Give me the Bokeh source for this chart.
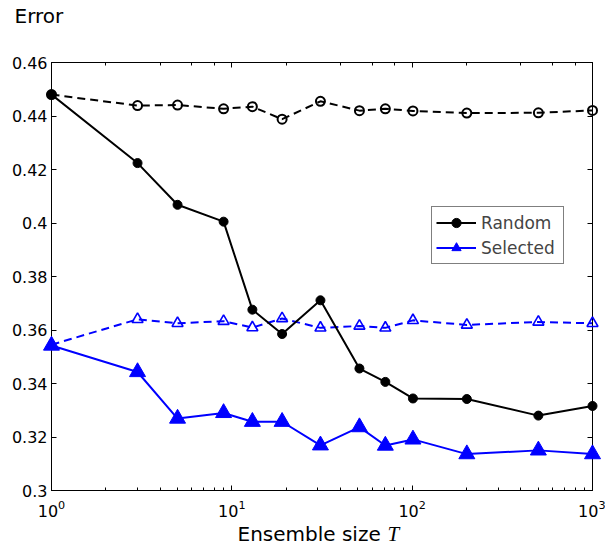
from bokeh.plotting import figure
from bokeh.models import (Range1d, LinearAxis, LogAxis, FixedTicker, LogTicker,
                          CustomJSTickFormatter, Legend, LegendItem)
from bokeh.core.properties import value
from bokeh.embed import file_html
from bokeh.resources import INLINE

# ---- data ----
ensemble_size = [1, 3, 5, 9, 13, 19, 31, 51, 71, 101, 201, 501, 1000]
random_error = [0.4480, 0.4224, 0.4068, 0.4005, 0.3676, 0.3585, 0.3711,
                0.3456, 0.3406, 0.3344, 0.3342, 0.3280, 0.3316]
selected_error = [0.3542, 0.3443, 0.3269, 0.3290, 0.3257, 0.3257, 0.3169,
                  0.3237, 0.3168, 0.3191, 0.3136, 0.3150, 0.3136]
random_dashed = [0.4480, 0.4439, 0.4441, 0.4427, 0.4435, 0.4388, 0.4455,
                 0.4420, 0.4427, 0.4419, 0.4411, 0.4412, 0.4421]
selected_dashed = [0.3545, 0.3640, 0.3625, 0.3633, 0.3609, 0.3643, 0.3608,
                   0.3615, 0.3608, 0.3636, 0.3619, 0.3630, 0.3625]
y_ticks = [0.30, 0.32, 0.34, 0.36, 0.38, 0.40, 0.42, 0.44, 0.46]
x_range_ends = [1, 1000]
y_range_ends = [0.30, 0.46]
series_labels = ["Random", "Selected"]
y_title = "Error"
x_title = "Ensemble size"
x_title_symbol = "T"

FONT = "DejaVu Sans"
BLUE = "#0000FF"

p = figure(width=605, height=547, x_axis_type="log",
           x_range=Range1d(*x_range_ends), y_range=Range1d(*y_range_ends),
           output_backend="svg", toolbar_location=None, title=None,
           min_border_left=51, min_border_right=13,
           min_border_top=62, min_border_bottom=57)
p.xgrid.visible = False
p.ygrid.visible = False
p.outline_line_color = "black"
p.background_fill_color = "white"
p.border_fill_color = "white"

# dashed reference curves
p.line(ensemble_size, random_dashed, line_color="black", line_width=2, line_dash="8 5")
rd = p.scatter(ensemble_size, random_dashed, marker="circle", size=9,
               fill_alpha=0, line_color="black", line_width=2)
p.line(ensemble_size, selected_dashed, line_color=BLUE, line_width=2, line_dash="8 5")
sd = p.scatter(ensemble_size, selected_dashed, marker="triangle", size=11,
               fill_alpha=0, line_color=BLUE, line_width=1.6)

# solid curves
rl = p.line(ensemble_size, random_error, line_color="black", line_width=2)
rs = p.scatter(ensemble_size, random_error, marker="circle", size=9,
               fill_color="black", line_color="black")
sl = p.line(ensemble_size, selected_error, line_color=BLUE, line_width=2)
ss = p.scatter(ensemble_size, selected_error, marker="triangle", size=16,
               fill_color=BLUE, line_color=BLUE)
for r in (rd, sd, rs, ss):
    r.level = "overlay"

# axes
def style_axis(ax, minor=True):
    ax.axis_line_color = "black"
    ax.axis_line_width = 1
    ax.major_tick_in = 5
    ax.major_tick_out = 0
    ax.major_tick_line_color = "black"
    ax.minor_tick_in = 3 if minor else 0
    ax.minor_tick_out = 0
    ax.minor_tick_line_color = "black" if minor else None
    ax.major_label_text_font = FONT
    ax.major_label_text_font_size = "16px"
    ax.major_label_text_color = "black"

blank = CustomJSTickFormatter(code="return ''")

xa = p.xaxis[0]
style_axis(xa)
xa.major_label_standoff = 9

ya = p.yaxis[0]
ya.ticker = FixedTicker(ticks=y_ticks)
ya.formatter = CustomJSTickFormatter(code="return String(parseFloat(tick.toFixed(2)))")
style_axis(ya, minor=False)
ya.major_label_standoff = 4

top = LogAxis(ticker=LogTicker(), formatter=blank)
style_axis(top)
top.major_label_standoff = 0
p.add_layout(top, "above")

right = LinearAxis(ticker=FixedTicker(ticks=y_ticks), formatter=blank)
style_axis(right, minor=False)
right.major_label_standoff = 0
p.add_layout(right, "right")

# legend
legend = Legend(items=[LegendItem(label=series_labels[0], renderers=[rl, rs]),
                       LegendItem(label=series_labels[1], renderers=[sl, ss])],
                location=(380, 226), orientation="vertical",
                border_line_color="black", border_line_width=1,
                background_fill_color="white", background_fill_alpha=1,
                label_text_font=FONT, label_text_font_size="17px",
                glyph_width=40, glyph_height=23, label_height=23, label_width=78,
                spacing=2, padding=4, margin=0, label_standoff=5)
p.add_layout(legend)

# axis titles (text glyphs anchored at the axis range corners, drawn unclipped)
t1 = p.text(x=[x_range_ends[0]], y=[y_range_ends[1]], text=[y_title],
            x_offset=-37, y_offset=-47, text_font=value(FONT), text_font_size="20px",
            text_color="black", text_baseline="alphabetic", text_align="left")
t2 = p.text(x=[x_range_ends[0]], y=[y_range_ends[0]], text=[x_title],
            x_offset=186, y_offset=43, text_font=value(FONT), text_font_size="20px",
            text_color="black", text_baseline="alphabetic", text_align="left")
t3 = p.text(x=[x_range_ends[0]], y=[y_range_ends[0]], text=[x_title_symbol],
            x_offset=336, y_offset=43, text_font=value("Liberation Serif"),
            text_font_style="italic", text_font_size="21px",
            text_color="black", text_baseline="alphabetic", text_align="left")
for t in (t1, t2, t3):
    t.level = "overlay"

open("out.html", "w").write(file_html(p, INLINE))
